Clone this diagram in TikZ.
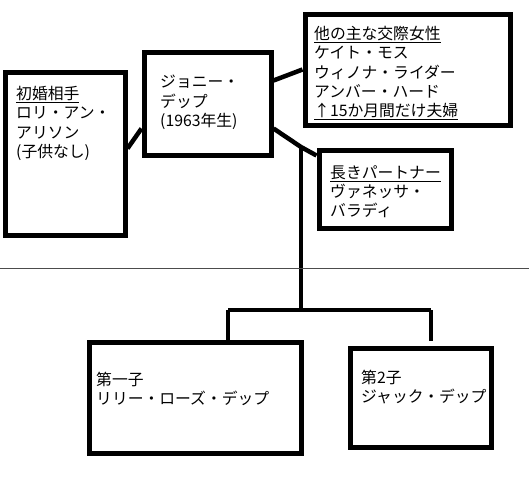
\documentclass[tikz,border=0pt]{standalone}
\usepackage{fontspec}
\newfontfamily\jpfont{Noto Sans CJK JP}
\usetikzlibrary{calc,positioning}

\tikzset{
  box/.style={draw,line width=5pt,minimum width=#1,inner sep=0pt},
  txt/.style={anchor=north west,align=left,inner sep=0pt,
    font=\jpfont\fontsize{15.8}{19.3}\selectfont},
  link/.style={line width=4.5pt,line join=round}
}

\begin{document}
\begin{tikzpicture}[x=1pt,y=-1pt]
\useasboundingbox (0,0) rectangle (529,488);

\node [box=120pt,minimum height=163pt] (wife) at (65,153.5) {};
\node [box=127pt,minimum height=103pt] (johnny) at (207.5,103.5) {};
\node [box=205pt,minimum height=111pt] (others) at (407.5,69.5) {};
\node [box=132pt,minimum height=78pt] (partner) at (385,189) {};
\node [box=212pt,minimum height=111pt] (child1) at (195,397.5) {};
\node [box=141pt,minimum height=99pt] (child2) at (420.5,397.5) {};

\node [txt] (wifetxt) at (16,86) {\underline{初婚相手}\\ロリ・アン・\\アリソン\\(子供なし)};
\node [txt] (johnnytxt) at (160,75) {ジョニー・\\デップ\\(1963年生)};
\node [txt] (otherstxt) at (314,26) {\underline{他の主な交際女性}\\ケイト・モス\\ウィノナ・ライダー\\アンバー・ハード\\\underline{↑15か月間だけ夫婦}};
\node [txt] (partnertxt) at (330,165) {\underline{長きパートナー}\\ヴァネッサ・\\バラディ};
\node [txt] (child1txt) at (96,372) {第一子\\リリー・ローズ・デップ};
\node [txt] (child2txt) at (361,370) {第2子\\ジャック・デップ};

\coordinate (hub) at (301,147);
\coordinate (split) at (301,310);
\coordinate (lk) at (228,310);
\coordinate (rk) at (431,310);
\coordinate (rkend) at (431,341);
\coordinate (rulel) at (0,268);
\coordinate (ruler) at (529,268);

\draw [link] ([yshift=5pt]wife.east) -- ([yshift=-25pt]johnny.west);
\draw [link] ([yshift=23pt]johnny.east) -- (others.west);
\draw [link] ([yshift=-25pt]johnny.east) -- (hub) -- ([yshift=-8pt]partner.north west);
\draw [link] (hub) -- (split);
\draw [link] (lk) -- (rk);
\draw [link] (lk) -- (lk |- child1.north);
\draw [link] (rk) -- (rkend);

\draw [black!70,line width=1pt] (rulel) -- (ruler);

\end{tikzpicture}
\end{document}
